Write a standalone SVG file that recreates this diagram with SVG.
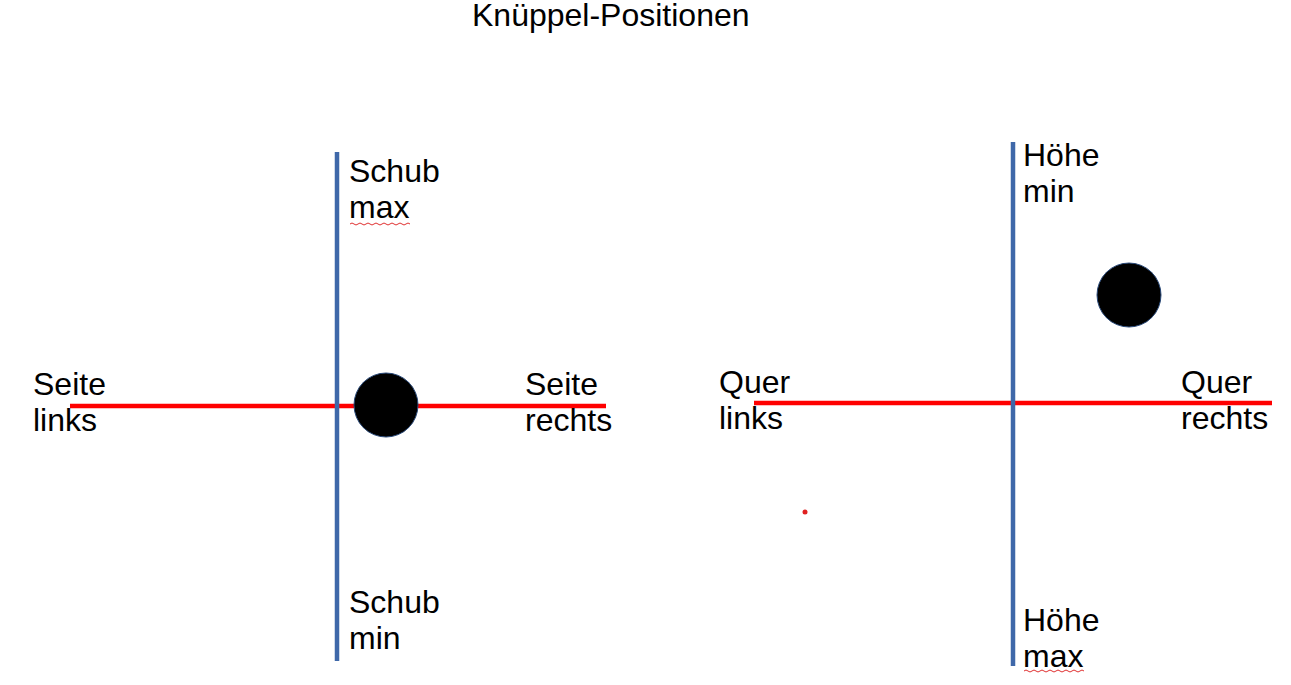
<svg xmlns="http://www.w3.org/2000/svg" width="1291" height="685" viewBox="0 0 1291 685">
<style>
text{font-family:"Liberation Sans",Arial,sans-serif;font-size:32px;fill:#000}
.ax{stroke:#3f68a9;stroke-width:4.5;fill:none}
.rd{stroke:#ff0000;stroke-width:4.5;fill:none}
.knob{fill:#000;stroke:#2a4a7a;stroke-width:1}
.sq{stroke:#e03030;stroke-width:1;fill:none}
</style>
<rect width="1291" height="685" fill="#fff"/>
<text id="title" x="472" y="26">Knüppel-Positionen</text>
<g id="connectors">
<line class="rd" x1="70" y1="406" x2="606" y2="406"/>
<line class="ax" x1="337" y1="152" x2="337" y2="661"/>
<line class="rd" x1="754" y1="403" x2="1272" y2="403"/>
<line class="ax" x1="1013" y1="142" x2="1013" y2="666"/>
</g>
<g id="knob-left"><circle class="knob" cx="386" cy="405" r="32"/></g>
<g id="knob-right"><circle class="knob" cx="1129" cy="295" r="32"/></g>
<g id="dot"><circle cx="805" cy="512" r="2.5" fill="#e02020"/></g>
<g id="schub-max"><text x="349" y="182">Schub</text><text x="349" y="218">max</text>
<path class="sq" d="M350 224 q2 -2 4 0 t4 0 t4 0 t4 0 t4 0 t4 0 t4 0 t4 0 t4 0 t4 0 t4 0 t4 0 t4 0 t4 0 t4 0"/></g>
<g id="schub-min"><text x="349" y="613">Schub</text><text x="349" y="649">min</text></g>
<g id="seite-links"><text x="33" y="395">Seite</text><text x="33" y="431">links</text></g>
<g id="seite-rechts"><text x="525" y="395">Seite</text><text x="525" y="431">rechts</text></g>
<g id="hoehe-min"><text x="1023" y="166">Höhe</text><text x="1023" y="202">min</text></g>
<g id="hoehe-max"><text x="1023" y="631">Höhe</text><text x="1023" y="667">max</text>
<path class="sq" d="M1024 671 q2 -2 4 0 t4 0 t4 0 t4 0 t4 0 t4 0 t4 0 t4 0 t4 0 t4 0 t4 0 t4 0 t4 0 t4 0 t4 0"/></g>
<g id="quer-links"><text x="719" y="393">Quer</text><text x="719" y="429">links</text></g>
<g id="quer-rechts"><text x="1181" y="393">Quer</text><text x="1181" y="429">rechts</text></g>
</svg>
